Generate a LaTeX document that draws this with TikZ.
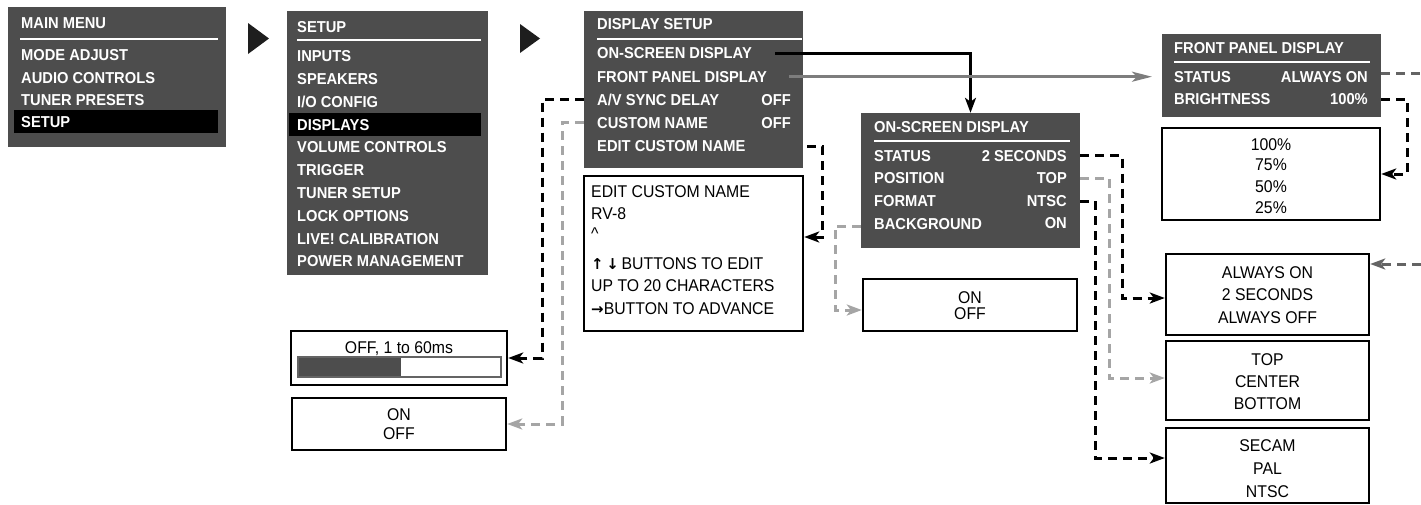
\documentclass[tikz,border=0pt]{standalone}
\usepackage{fontspec}
\setmainfont{Liberation Sans}[FakeStretch=0.93]
\newfontfamily\arrowfont{DejaVu Sans}
\usetikzlibrary{arrows.meta,fit,calc}
\definecolor{menubg}{RGB}{77,77,77}
\definecolor{trigray}{RGB}{30,30,30}
\definecolor{lgray}{RGB}{165,165,165}
\definecolor{mgray}{RGB}{100,100,100}
\definecolor{sgray}{RGB}{125,125,125}
\begin{document}
\begin{tikzpicture}[x=1pt,y=-1pt,
  menu/.style={fill=menubg, inner sep=0pt},
  hl/.style={fill=black, inner sep=0pt},
  wbox/.style={draw=black, line width=2.4pt, fill=white, inner sep=0pt},
  mt/.style={text=white, font=\bfseries\fontsize{15.8}{18}\selectfont, inner sep=0pt, text height=11.3pt, text depth=0pt},
  mtl/.style={mt, anchor=west},
  mtr/.style={mt, anchor=east},
  rt/.style={text=black, font=\fontsize{17}{20}\selectfont, inner sep=0pt, text height=12.2pt, text depth=0pt},
  rtl/.style={rt, anchor=west},
  rule/.style={white, line width=2.4pt},
  tri/.style={fill=trigray},
  tip/.style={-{Stealth[length=15pt,width=11pt,inset=4pt]}},
  solidconn/.style={black, line width=2.6pt, tip},
  grayconn/.style={sgray, line width=3pt, -{Stealth[length=20pt,width=10pt,inset=5pt]}},
  bdash/.style={black, line width=3pt, dash pattern=on 9pt off 6pt, tip},
  ldash/.style={lgray, line width=3pt, dash pattern=on 9pt off 6pt, tip},
  mdash/.style={mgray, line width=3pt, dash pattern=on 9pt off 6pt},
]
\useasboundingbox (0,0) rectangle (1421,504);

% ---------- MAIN MENU ----------
\node[menu, fit={(8,7) (226,147)}] (mainbox) {};
\node[hl, fit={(14,110) (218,133)}] (mainhl) {};
\node[mtl] (m0) at (21,23) {MAIN MENU};
\draw[rule] (20,39) -- (218,39);
\node[mtl] (m1) at (21,55) {MODE ADJUST};
\node[mtl] (m2) at (21,78) {AUDIO CONTROLS};
\node[mtl] (m3) at (21,100) {TUNER PRESETS};
\node[mtl] (m4) at (21,122) {SETUP};

\fill[tri] (248,23) -- (269,38.5) -- (248,54) -- cycle;

% ---------- SETUP ----------
\node[menu, fit={(287,11) (488,275)}] (setupbox) {};
\node[hl, fit={(289,113) (481,136)}] (setuphl) {};
\node[mtl] (s0) at (297,27) {SETUP};
\draw[rule] (297,40) -- (481,40);
\node[mtl] (s1) at (297,56) {INPUTS};
\node[mtl] (s2) at (297,78.8) {SPEAKERS};
\node[mtl] (s3) at (297,101.6) {I/O CONFIG};
\node[mtl] (s4) at (297,124.4) {DISPLAYS};
\node[mtl] (s5) at (297,147.2) {VOLUME CONTROLS};
\node[mtl] (s6) at (297,170) {TRIGGER};
\node[mtl] (s7) at (297,192.8) {TUNER SETUP};
\node[mtl] (s8) at (297,215.6) {LOCK OPTIONS};
\node[mtl] (s9) at (297,238.4) {LIVE! CALIBRATION};
\node[mtl] (s10) at (297,261.2) {POWER MANAGEMENT};

\fill[tri] (520,24) -- (540,38.5) -- (520,53) -- cycle;

% ---------- DISPLAY SETUP ----------
\node[menu, fit={(584,11) (803,168)}] (dsbox) {};
\node[mtl] (ds0) at (597,24) {DISPLAY SETUP};
\draw[rule] (597,39) -- (802,39);
\node[mtl] (ds1) at (597,53.3) {ON-SCREEN DISPLAY};
\node[mtl] (ds2) at (597,76.7) {FRONT PANEL DISPLAY};
\node[mtl] (ds3) at (597,99.5) {A/V SYNC DELAY};
\node[mtr] (ds3v) at (791,99.5) {OFF};
\node[mtl] (ds4) at (597,122.8) {CUSTOM NAME};
\node[mtr] (ds4v) at (791,122.8) {OFF};
\node[mtl] (ds5) at (597,146) {EDIT CUSTOM NAME};

% ---------- EDIT CUSTOM NAME box ----------
\node[wbox, fit={(584,176) (803,331)}] (editbox) {};
\node[rtl] (e1) at (591,191) {EDIT CUSTOM NAME};
\node[rtl] (e2) at (591,213) {RV-8};
\node[rtl] (e3) at (591,233) {\^{}};
\node[rtl] (e4) at (591,263) {{\arrowfont\bfseries\fontsize{15}{17}\selectfont ↑\,↓}\,BUTTONS TO EDIT};
\node[rtl] (e5) at (591,285.5) {UP TO 20 CHARACTERS};
\node[rtl] (e6) at (591,308) {{\arrowfont\bfseries\fontsize{15}{17}\selectfont →}BUTTON TO ADVANCE};

% ---------- ON-SCREEN DISPLAY ----------
\node[menu, fit={(861,113) (1080,248)}] (osd) {};
\node[mtl] (o0) at (874,127) {ON-SCREEN DISPLAY};
\draw[rule] (874,141) -- (1070,141);
\node[mtl] (o1) at (874,155.5) {STATUS};
\node[mtr] (o1v) at (1067,155.5) {2 SECONDS};
\node[mtl] (o2) at (874,178) {POSITION};
\node[mtr] (o2v) at (1067,178) {TOP};
\node[mtl] (o3) at (874,201) {FORMAT};
\node[mtr] (o3v) at (1067,201) {NTSC};
\node[mtl] (o4) at (874,224) {BACKGROUND};
\node[mtr] (o4v) at (1067,222.5) {ON};

% ON/OFF box (background)
\node[wbox, fit={(863,279) (1077,331)}] (onbox) {};
\node[rt] (on1) at (970,297) {ON};
\node[rt] (on2) at (970,313) {OFF};

% ---------- FRONT PANEL DISPLAY ----------
\node[menu, fit={(1162,34) (1381,117)}] (fpd) {};
\node[mtl] (f0) at (1174,48) {FRONT PANEL DISPLAY};
\draw[rule] (1174,62) -- (1370,62);
\node[mtl] (f1) at (1174,77) {STATUS};
\node[mtr] (f1v) at (1368,77) {ALWAYS ON};
\node[mtl] (f2) at (1174,99) {BRIGHTNESS};
\node[mtr] (f2v) at (1368,99) {100\%};

\node[wbox, fit={(1162,128) (1380,220)}] (pctbox) {};
\node[rt] (p1) at (1271,144) {100\%};
\node[rt] (p2) at (1271,164.5) {75\%};
\node[rt] (p3) at (1271,186) {50\%};
\node[rt] (p4) at (1271,207) {25\%};

% ---------- option boxes right ----------
\node[wbox, fit={(1166,254) (1369,335)}] (stbox) {};
\node[rt] (st1) at (1267.5,272) {ALWAYS ON};
\node[rt] (st2) at (1267.5,294.5) {2 SECONDS};
\node[rt] (st3) at (1267.5,317) {ALWAYS OFF};

\node[wbox, fit={(1166,341) (1369,420)}] (posbox) {};
\node[rt] (po1) at (1267.5,359) {TOP};
\node[rt] (po2) at (1267.5,381) {CENTER};
\node[rt] (po3) at (1267.5,403) {BOTTOM};

\node[wbox, fit={(1166,428) (1369,503)}] (fmtbox) {};
\node[rt] (fm1) at (1267.5,445) {SECAM};
\node[rt] (fm2) at (1267.5,468) {PAL};
\node[rt] (fm3) at (1267.5,491) {NTSC};

% ---------- left bottom boxes ----------
\node[wbox, fit={(291,331) (507,385)}] (avsbox) {};
\node[rt] (av1) at (399,347) {OFF, 1 to 60ms};
\fill[menubg] (298,357) rectangle (401,377);
\draw[mgray, line width=1.8pt] (298,357) rectangle (501,377);

\node[wbox, fit={(292,398) (506,450)}] (cnbox) {};
\node[rt] (cn1) at (399,414) {ON};
\node[rt] (cn2) at (399,433) {OFF};

% ---------- connectors ----------
\draw[solidconn] (775,0 |- ds1) -| (osd.north);
\draw[grayconn] (789,0 |- ds2) -- (1152,0 |- ds2);
\draw[bdash] (dsbox.west |- ds3) -- (542,0 |- ds3) |- (avsbox.east);
\draw[ldash] (dsbox.west |- ds4) -- (562,0 |- ds4) |- (cnbox.east);
\draw[bdash] (807,0 |- ds5) -| (822,237) -- (editbox.east |- 0,237);
\draw[ldash] (osd.west |- 0,226) -- (835,226) -- (835,310) -- (onbox.west |- 0,310);
\draw[bdash] (osd.east |- o1) -- (1122,0 |- o1) |- (stbox.west |- 0,298);
\draw[ldash] (osd.east |- o2) -- (1109,0 |- o2) |- (posbox.west |- 0,378);
\draw[bdash] (osd.east |- o3) -- (1095,0 |- o3) |- (fmtbox.west |- 0,458);
\coordinate (edgeA) at (1421,73);
\coordinate (edgeB) at (1421,264);
\draw[mdash] (fpd.east |- 0,73) -- (edgeA);
\draw[mdash, tip] (edgeB) -- (stbox.east |- 0,264);
\draw[bdash] (fpd.east |- f2) -- (1407,0 |- f2) |- (pctbox.east);
\end{tikzpicture}
\end{document}
